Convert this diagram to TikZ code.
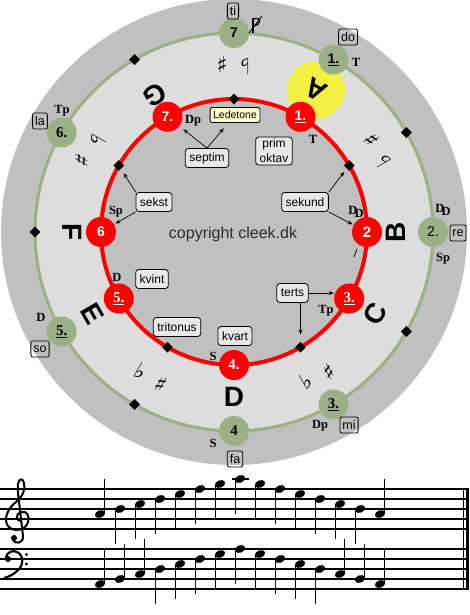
\documentclass[tikz,border=0pt]{standalone}
\usepackage{fontspec}
\setmainfont{Liberation Serif}
\setsansfont{Liberation Sans}
\newfontfamily\symf{DejaVu Sans}
\usetikzlibrary{arrows.meta,calc,shapes.geometric}
\newcommand\fsz[1]{\fontsize{#1}{#1}\selectfont}
\newcommand\ddsym{D\kern-2.6pt\raisebox{-3.5pt}{D}}
\definecolor{outergray}{RGB}{192,192,192}
\definecolor{ringgray}{RGB}{221,221,221}
\definecolor{sage}{RGB}{155,176,134}
\definecolor{sunny}{RGB}{242,240,66}
\definecolor{boxfill}{RGB}{232,232,232}
\definecolor{ledfill}{RGB}{255,255,204}
\definecolor{copygray}{RGB}{45,45,45}
\begin{document}
\begin{tikzpicture}[x=1pt,y=-1pt,
  rnode/.style={circle,fill=red,minimum size=30pt,inner sep=0pt,text=white,font=\sffamily\bfseries\fsz{14}},
  gnode/.style={circle,fill=sage,minimum size=30pt,inner sep=0pt,text=black,font=\sffamily\bfseries\fsz{14}},
  rmf/.style={font=\rmfamily\bfseries\fsz{15}},
  dia/.style={diamond,fill=black,minimum size=11pt,inner sep=0pt},
  fn/.style={font=\rmfamily\bfseries\fsz{12.5},inner sep=0pt},
  solfa/.style={draw,rounded corners=2pt,inner xsep=2.5pt,inner ysep=0pt,minimum height=16pt,font=\sffamily\fsz{12.5},line width=0.8pt},
  ivl/.style={draw,fill=boxfill,rounded corners=3pt,inner xsep=4pt,inner ysep=0pt,minimum height=19pt,font=\sffamily\fsz{12},line width=0.8pt},
  bigl/.style={font=\sffamily\bfseries\fsz{28},inner sep=0pt},
  acc/.style={font=\symf\bfseries\fsz{22},inner sep=0pt},
  arr/.style={-{Stealth[length=5pt,width=4pt]},line width=0.7pt},
  staffline/.style={line width=1.4pt},
  stem/.style={line width=1pt}
  ]
\useasboundingbox (0,0) rectangle (469,615);
\fill[white] (0,0) rectangle (469,615);
\coordinate (C) at (234,232);
\fill[outergray] (C) circle[radius=233pt];
\fill[ringgray] (C) circle[radius=199pt];
\fill[outergray] (C) circle[radius=133pt];
\begin{scope}[y=1pt,shift={(234,-232)}]
  \fill[sunny] (60:164) circle[radius=29pt];
\end{scope}
\draw[sage,line width=3pt] (C) circle[radius=199pt];
\draw[red,line width=4pt] (C) circle[radius=133pt];

\begin{scope}[y=1pt,shift={(234,-232)}]
  % diamonds
  \foreach \a/\n in {90/rd90,150/rd150,-120/rd240,-60/rd300,30/rd30}
    \node[dia] (\n) at (\a:133) {};
  \foreach \a/\n in {30/gd30,-30/gd330,-120/gd240,180/gd180,120/gd120}
    \node[dia] (\n) at (\a:199) {};
  % red nodes
  \node[rnode] (r1) at (60:133) {\underline{1.}};
  \node[rnode,font=\sffamily\bfseries\fsz{15}] (r2) at (0:133) {2};
  \node[rnode,rmf] (r3) at (-30:133) {\underline{3.}};
  \node[rnode,rmf] (r4) at (-90:133) {4.};
  \node[rnode,rmf] (r5) at (-150:133) {\underline{5.}};
  \node[rnode] (r6) at (180:133) {6};
  \node[rnode] (r7) at (120:133) {7.};
  % green nodes
  \node[gnode] (g1) at (60:199) {\underline{1.}};
  \node[gnode,font=\sffamily\fsz{14}] (g2) at (0:199) {2.};
  \node[gnode,rmf] (g3) at (-60:199) {\underline{3.}};
  \node[gnode,rmf] (g4) at (-90:199) {4};
  \node[gnode,rmf] (g5) at (-150:199) {\underline{5.}};
  \node[gnode,rmf] (g6) at (150:199) {6.};
  \node[gnode] (g7) at (90:199) {7};
  % big letters
  \node[bigl,rotate=150] (lA) at (60:164) {A};
  \node[bigl,rotate=90] (lB) at (0:162) {B};
  \node[bigl,rotate=60] (lC) at (-30:163) {C};
  \node[bigl,rotate=0] (lD) at (-90:165) {D};
  \node[bigl,rotate=-60] (lE) at (-150:163) {E};
  \node[bigl,rotate=-90] (lF) at (180:162) {F};
  \node[bigl,rotate=210] (lG) at (120:158) {G};
\end{scope}

% accidentals
\node[acc,rotate=180] (s90) at (222,65) {♯};
\node[acc,rotate=180] (b90) at (245,67) {♭};
\node[acc,rotate=120] (s30) at (372,140) {♯};
\node[acc,rotate=120] (b30) at (383,161) {♭};
\node[acc,rotate=240] (b150) at (98,141) {♭};
\node[acc,rotate=240] (s150) at (82,160) {♯};
\node[acc,rotate=-30] (b240) at (141,371) {♭};
\node[acc,rotate=-30] (s240) at (161,384) {♯};
\node[acc,rotate=30] (b300) at (306,381) {♭};
\node[acc,rotate=30] (s300) at (329,372) {♯};
\draw[line width=0.8pt] (354,257) -- (357,249);
% odd glyph near ti
\draw[line width=1.3pt] (253,18) -- (253,33);
\draw[line width=1.2pt] (253,19) .. controls (262,16) and (262,25) .. (253,26);
\draw[line width=0.9pt] (262,16) -- (249,33);

% function labels
\node[fn] (fT1) at (356,62) {T};
\node[fn] (fT2) at (313,139) {T};
\node[fn] (fDp1) at (193,121) {Dp};
\node[fn] (fSp1) at (116,212) {Sp};
\node[fn] (fDD1) at (356,212) {\ddsym};
\node[fn] (fD1) at (117,277) {D};
\node[fn] (fS1) at (213,356) {S};
\node[fn] (fTp1) at (326,311) {Tp};
\node[fn] (fDD2) at (443,210) {\ddsym};
\node[fn] (fSp2) at (443,259) {Sp};
\node[fn] (fDp2) at (320,426) {Dp};
\node[fn] (fS2) at (213,443) {S};
\node[fn] (fD2) at (41,317) {D};
\node[fn] (fTp2) at (62,111) {Tp};

% sol-fa boxes
\node[solfa] (ti) at (233,11) {ti};
\node[solfa] (do) at (348,37) {do};
\node[solfa] (re) at (458,233) {re};
\node[solfa] (mi) at (349,425) {mi};
\node[solfa] (fa) at (235,459) {fa};
\node[solfa] (so) at (40,349) {so};
\node[solfa] (la) at (40,121) {la};

% interval boxes
\node[draw,fill=ledfill,rounded corners=2pt,inner xsep=3pt,inner ysep=0pt,minimum height=15pt,font=\sffamily\fsz{10.5},line width=0.8pt] (led) at (235,115) {Ledetone};
\node[ivl] (septim) at (207,158) {septim};
\node[ivl,align=center,font={\sffamily\fontsize{12}{15}\selectfont},inner ysep=2pt] (prim) at (274,151) {prim\\oktav};
\node[ivl] (sekst) at (154,202) {sekst};
\node[ivl] (sekund) at (305,202) {sekund};
\node[ivl] (kvint) at (152,279) {kvint};
\node[ivl] (tritonus) at (177,327) {tritonus};
\node[ivl] (kvart) at (235,336) {kvart};
\node[ivl] (terts) at (292.5,293) {terts};

% arrows
\draw[arr,shorten >=5pt] (septim.north) -- (r7);
\draw[arr,shorten >=7pt] (septim.north) -- (led);
\draw[arr,shorten >=5pt] (sekst.north west) -- (rd150);
\draw[arr,shorten >=1.5pt] (sekst.south west) -- (r6);
\draw[arr,shorten >=4pt] (sekund.north east) -- (rd30);
\draw[arr,shorten >=1pt] (sekund.south east) -- (r2);
\draw[arr] (terts.east) -- (terts.east -| r3.west);
\draw[arr,shorten >=7pt] (terts.south -| rd300) -- (rd300);

% copyright
\node[text=copygray,font=\sffamily\fsz{16}] (copy) at (233,234) {copyright cleek.dk};

% staves
\foreach \yy in {489,499,509,519,529,549,559,569,579,589}
  \draw[staffline] (0,\yy) -- (466,\yy);
\draw[line width=1pt] (463.5,489) -- (463.5,589);
\draw[line width=3pt] (467.5,488.3) -- (467.5,589.7);

% treble clef
\draw[line width=2pt,line cap=round] (21,521) .. controls (16,521) and (15,514) .. (21,512)
  .. controls (27,510) and (30,517) .. (28,522)
  .. controls (26,530) and (14,533) .. (8,526)
  .. controls (3,519) and (8,508) .. (16,502)
  .. controls (22,497) and (26,490) .. (24,483)
  .. controls (23,478) and (19,478) .. (18,484)
  .. controls (17,490) and (19,500) .. (20,510)
  -- (23,536)
  .. controls (24,543) and (15,545) .. (13,540);
\fill (14,538) circle[radius=3pt];
% bass clef
\fill (8,559) circle[radius=3pt];
\draw[line width=2.2pt] (6,559) .. controls (6,551) and (14,550) .. (17,552)
  .. controls (24,555) and (24,566) .. (17,571)
  .. controls (13,575) and (8,577) .. (4,578);
\fill (26.5,554.5) circle[radius=1.7pt];
\fill (26.5,564) circle[radius=1.7pt];

% treble notes
\foreach \i/\s in {0/0,1/1,2/2,3/3,4/4,5/5,6/6,7/7,8/6,9/5,10/4,11/3,12/2,13/1,14/0}{
  \pgfmathsetmacro{\nx}{100+20*\i}
  \pgfmathsetmacro{\ny}{514-5*\s}
  \fill[rotate around={22:(\nx,\ny)}] (\nx,\ny) ellipse[x radius=5.3pt,y radius=3.7pt];
  \ifnum\s=0
    \draw[stem] (\nx+4.8,\ny) -- (\nx+4.8,\ny-35);
  \else
    \draw[stem] (\nx-4.8,\ny) -- (\nx-4.8,\ny+35);
  \fi
}
\draw[line width=1.3pt] (232,479) -- (249,479);
% bass notes
\foreach \i/\s in {0/0,1/1,2/2,3/3,4/4,5/5,6/6,7/7,8/6,9/5,10/4,11/3,12/2,13/1,14/0}{
  \pgfmathsetmacro{\nx}{100+20*\i}
  \pgfmathsetmacro{\ny}{584-5*\s}
  \fill[rotate around={22:(\nx,\ny)}] (\nx,\ny) ellipse[x radius=5.3pt,y radius=3.7pt];
  \ifnum\s<3
    \draw[stem] (\nx+4.8,\ny) -- (\nx+4.8,\ny-35);
  \else
    \draw[stem] (\nx-4.8,\ny) -- (\nx-4.8,\ny+35);
  \fi
}
\end{tikzpicture}
\end{document}
